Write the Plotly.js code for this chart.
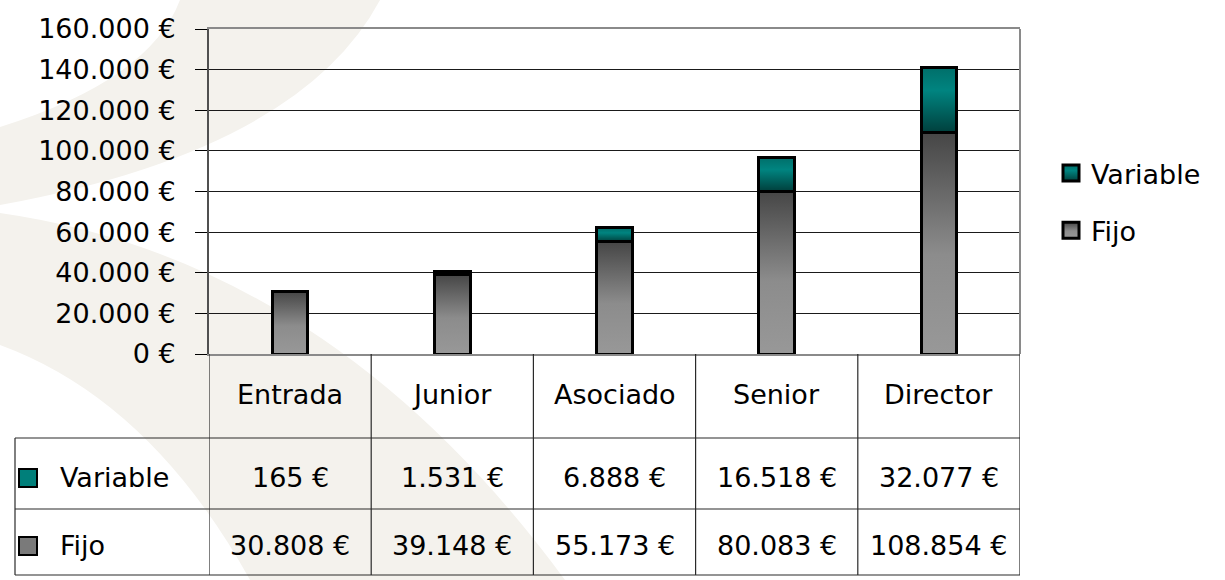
<!DOCTYPE html>
<html>
<head>
<meta charset="utf-8">
<script src="https://cdn.plot.ly/plotly-3.0.1.min.js"></script>
<style>
  html, body { margin: 0; padding: 0; background: #ffffff; }
  #chart { width: 1225px; height: 580px; }
</style>
</head>
<body>
<div id="chart"></div>
<script>
// ---- data ----
const categories = ['Entrada', 'Junior', 'Asociado', 'Senior', 'Director'];
const fijo = [30808, 39148, 55173, 80083, 108854];
const variable = [165, 1531, 6888, 16518, 32077];
const seriesNames = ['Variable', 'Fijo'];

// ---- geometry helpers (pixels -> paper) ----
const W = 1225, H = 580;
const M = { l: 209, r: 205, t: 29, b: 226 };
const PW = W - M.l - M.r, PH = H - M.t - M.b;
const px = x => (x - M.l) / PW;
const py = y => (H - M.b - y) / PH;

const FONT = 'DejaVu Sans, Verdana, sans-serif';
const FS = 27;

function fmt(v) {
  return String(v).replace(/\B(?=(\d{3})+(?!\d))/g, '.') + ' €';
}

// watermark path (pixel coordinates converted to paper)
function pathFromPx(cmds) {
  return cmds.map(c => {
    if (c[0] === 'Z') return 'Z';
    const pts = [];
    for (let i = 1; i < c.length; i += 2) pts.push(px(c[i]).toFixed(4) + ',' + py(c[i + 1]).toFixed(4));
    return c[0] + pts.join(' ');
  }).join(' ');
}

const wmColor = '#f4f2ed';
const shapes = [];
shapes.push({
  type: 'path', xref: 'paper', yref: 'paper', layer: 'below',
  path: pathFromPx([
    ['M', 180, 0], ['L', 380, 0], ['Q', 300, 150, 0, 205], ['L', 0, 127],
    ['Q', 150, 80, 180, 0], ['Z']
  ]),
  fillcolor: wmColor, line: { width: 0 }
});
shapes.push({
  type: 'path', xref: 'paper', yref: 'paper', layer: 'below',
  path: pathFromPx([
    ['M', 0, 213], ['Q', 330, 260, 565, 580], ['L', 250, 580],
    ['Q', 150, 400, 0, 345], ['Z']
  ]),
  fillcolor: wmColor, line: { width: 0 }
});

// right border of plot area
shapes.push({ type: 'line', xref: 'paper', yref: 'paper', x0: 1, x1: 1, y0: 0, y1: 1,
  line: { color: '#8a8a8a', width: 2 } });

// table lines
const tblLine = { color: '#2a2a2a', width: 1.2 };
const rowYs = [438, 509, 575];
rowYs.forEach(y => shapes.push({ type: 'line', xref: 'paper', yref: 'paper',
  x0: px(15), x1: 1, y0: py(y), y1: py(y), line: tblLine }));
for (let i = 0; i <= categories.length; i++) {
  shapes.push({ type: 'line', xref: 'x', yref: 'paper', x0: i - 0.5, x1: i - 0.5,
    y0: 0, y1: py(575), line: tblLine });
}
shapes.push({ type: 'line', xref: 'paper', yref: 'paper', x0: px(15), x1: px(15),
  y0: py(438), y1: py(575), line: tblLine });

// legend keys in the table
const keyColors = { Variable: '#007f7a', Fijo: '#7a7a7a' };
const rowCenters = { header: 394, Variable: 477, Fijo: 545 };
seriesNames.forEach(n => {
  const c = rowCenters[n];
  shapes.push({ type: 'rect', xref: 'paper', yref: 'paper',
    x0: px(19), x1: px(37), y0: py(c - 8), y1: py(c + 10),
    fillcolor: keyColors[n], line: { color: '#000', width: 2 } });
});

// annotations
const annotations = [];
const annFont = { family: FONT, size: FS, color: '#000' };
categories.forEach((c, i) => {
  annotations.push({ xref: 'x', yref: 'paper', x: i, y: py(rowCenters.header),
    text: c, showarrow: false, xanchor: 'center', yanchor: 'middle', font: annFont });
  annotations.push({ xref: 'x', yref: 'paper', x: i, y: py(rowCenters.Variable),
    text: fmt(variable[i]), showarrow: false, xanchor: 'center', yanchor: 'middle', font: annFont });
  annotations.push({ xref: 'x', yref: 'paper', x: i, y: py(rowCenters.Fijo),
    text: fmt(fijo[i]), showarrow: false, xanchor: 'center', yanchor: 'middle', font: annFont });
});
seriesNames.forEach(n => {
  annotations.push({ xref: 'paper', yref: 'paper', x: px(58), y: py(rowCenters[n]),
    text: n, showarrow: false, xanchor: 'left', yanchor: 'middle', font: annFont });
});

const barLine = { color: '#000', width: 3 };
const traces = [
  { type: 'bar', name: 'Fijo', x: categories, y: fijo, width: 0.22,
    marker: { color: '#707070', line: barLine }, legendgroup: 'f', legendrank: 2 },
  { type: 'bar', name: 'Variable', x: categories, y: variable, width: 0.22,
    marker: { color: '#007f7a', line: barLine }, legendgroup: 'v', legendrank: 1 }
];

const layout = {
  width: W, height: H,
  margin: M,
  paper_bgcolor: '#ffffff',
  plot_bgcolor: 'rgba(0,0,0,0)',
  barmode: 'stack',
  separators: ',.',
  font: { family: FONT, size: FS, color: '#000' },
  showlegend: true,
  legend: {
    x: px(1051), y: py(149), xanchor: 'left', yanchor: 'top',
    traceorder: 'grouped', tracegroupgap: 19,
    font: { family: FONT, size: FS, color: '#000' },
    bgcolor: 'rgba(0,0,0,0)'
  },
  xaxis: {
    type: 'category', range: [-0.5, categories.length - 0.5],
    showticklabels: false, ticks: '', showgrid: false, zeroline: false,
    showline: true, linecolor: '#8a8a8a', linewidth: 2, mirror: true
  },
  yaxis: {
    range: [0, 160000], dtick: 20000, tick0: 0,
    tickformat: ',d', ticksuffix: ' €',
    ticks: 'outside', ticklen: 12, tickwidth: 1, tickcolor: '#000',
    ticklabelstandoff: 14,
    tickfont: { family: FONT, size: FS, color: '#000' },
    showgrid: true, gridcolor: '#1a1a1a', gridwidth: 1,
    zeroline: false, showline: true, linecolor: '#505050', linewidth: 2
  },
  shapes: shapes,
  annotations: annotations,
  hovermode: false
};

Plotly.newPlot('chart', traces, layout, { displayModeBar: false, staticPlot: true }).then(gd => {
  // gradient paint for bars (per-bar bounding box)
  const svgNS = 'http://www.w3.org/2000/svg';
  const svg = gd.querySelector('.main-svg');
  let defs = svg.querySelector('defs');
  if (!defs) { defs = document.createElementNS(svgNS, 'defs'); svg.insertBefore(defs, svg.firstChild); }
  function grad(id, stops) {
    const g = document.createElementNS(svgNS, 'linearGradient');
    g.setAttribute('id', id);
    g.setAttribute('x1', '0'); g.setAttribute('y1', '0');
    g.setAttribute('x2', '0'); g.setAttribute('y2', '1');
    stops.forEach(s => {
      const st = document.createElementNS(svgNS, 'stop');
      st.setAttribute('offset', s[0]);
      st.setAttribute('stop-color', s[1]);
      g.appendChild(st);
    });
    defs.appendChild(g);
  }
  grad('gradFijo', [[0, '#464646'], [0.55, '#8c8c8c'], [1, '#989898']]);
  grad('gradVariable', [[0, '#006f6a'], [0.35, '#008480'], [1, '#003f3c']]);
  const ids = { Fijo: 'url(#gradFijo)', Variable: 'url(#gradVariable)' };
  gd.querySelectorAll('.barlayer .trace').forEach(t => {
    const d = t.__data__;
    const name = d && d[0] && d[0].trace ? d[0].trace.name : null;
    if (!name) return;
    t.querySelectorAll('.point path').forEach(p => { p.style.fill = ids[name]; });
  });
  gd.querySelectorAll('.legend .traces').forEach(t => {
    const d = t.__data__;
    const name = d && d[0] && d[0].trace ? d[0].trace.name : null;
    if (!name) return;
    t.querySelectorAll('.legendpoints path').forEach(p => {
      const dd = p.getAttribute('d') || '';
      if (/^M6,6H-6V-6H6Z$/.test(dd)) p.setAttribute('d', 'M8,8H-8V-8H8Z');
      p.style.fill = ids[name];
    });
  });
});
</script>
</body>
</html>
